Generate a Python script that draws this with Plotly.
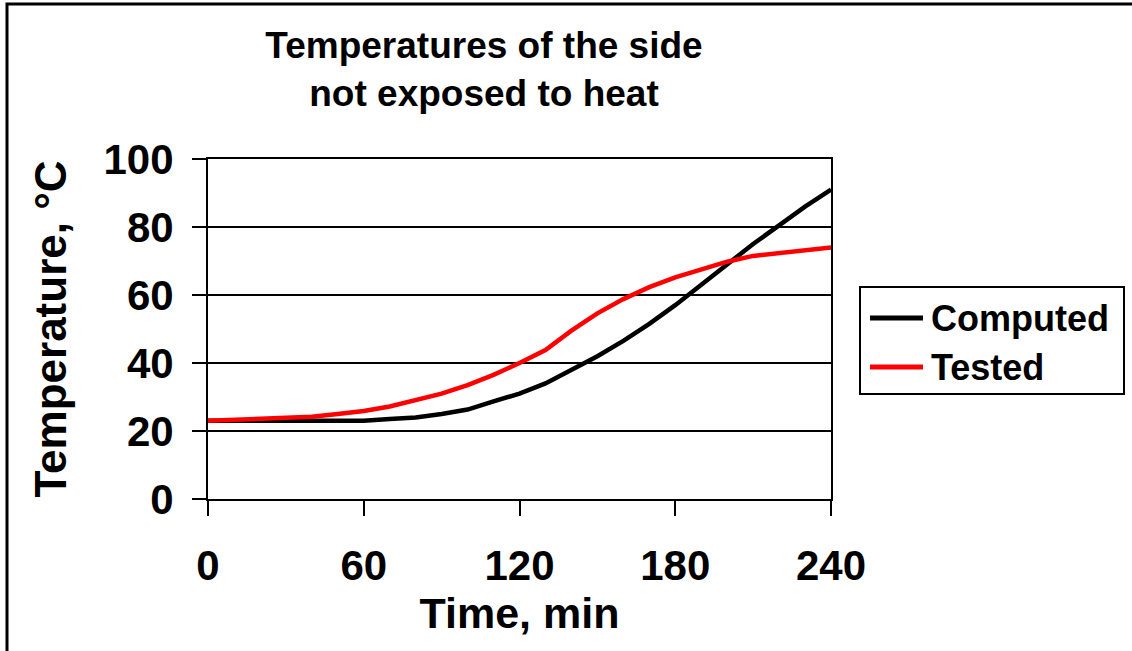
import plotly.graph_objects as go

time_min = [0, 10, 20, 30, 40, 50, 60, 70, 80, 90, 100, 110, 120, 130, 140, 150, 160, 170, 180, 190, 200, 210, 220, 230, 240]
computed = [23, 23, 23, 23, 23, 23, 23, 23.5, 24, 25, 26.3, 28.7, 31, 34, 38, 42, 46.5, 51.5, 57, 63, 69, 75, 80.5, 86, 91]
tested = [23, 23.3, 23.6, 23.8, 24.2, 25, 25.9, 27.2, 29, 31, 33.5, 36.5, 40, 43.8, 49.5, 54.6, 58.8, 62.3, 65.2, 67.5, 69.8, 71.5, 72.3, 73.3, 74]
series_names = ["Computed", "Tested"]
series_colors = ["#000000", "#FF0000"]
x_ticks = [0, 60, 120, 180, 240]
y_ticks = [0, 20, 40, 60, 80, 100]

FONT = "Liberation Sans, Arial, sans-serif"

fig = go.Figure()
for name, vals, col in zip(series_names, [computed, tested], series_colors):
    fig.add_trace(go.Scatter(x=time_min, y=vals, mode="lines", name=name,
                             line=dict(color=col, width=4.5), showlegend=False))

W, H = 1132, 651
L, R, T, B = 208, 831, 159, 499
pw, ph = R - L, B - T


def px_x(p):
    return (p - L) / pw


def px_y(p):
    return (B - p) / ph


fig.update_layout(
    width=W, height=H,
    margin=dict(l=L, r=W - R, t=T, b=H - B),
    paper_bgcolor="white", plot_bgcolor="white",
    font=dict(family=FONT, color="black"),
    title=dict(text="<b>Temperatures of the side<br>not exposed to heat</b>",
               x=484 / W, xanchor="center", xref="container",
               y=1 - 58 / H, yanchor="top", yref="container",
               font=dict(size=37, family=FONT, color="black")),
    xaxis=dict(range=[0, 240], tickvals=x_ticks, ticktext=[f"<b>{v}</b>" for v in x_ticks],
               showgrid=False, zeroline=False, showline=True, linecolor="black", linewidth=2,
               mirror=True, ticks="outside", ticklen=15, tickwidth=2, tickcolor="black",
               ticklabelstandoff=14,
               tickfont=dict(size=42, family=FONT, color="black"),
               title=dict(text="<b>Time, min</b>", font=dict(size=43, family=FONT, color="black"),
                          standoff=7)),
    yaxis=dict(range=[0, 100], tickvals=y_ticks, ticktext=[f"<b>{v}</b>" for v in y_ticks],
               showgrid=True, gridcolor="black", gridwidth=1.5, zeroline=False,
               showline=True, linecolor="black", linewidth=2, mirror=True,
               ticks="outside", ticklen=14, tickwidth=2, tickcolor="black",
               ticklabelstandoff=10,
               tickfont=dict(size=42, family=FONT, color="black"),
               title=dict(text="<b>Temperature, °C</b>", font=dict(size=44, family=FONT, color="black"),
                          standoff=23)),
)

# outer chart-area border (extends beyond the right and bottom edges of the image)
fig.add_shape(type="rect", xref="paper", yref="paper",
              x0=px_x(7), x1=px_x(W + 10), y0=px_y(H + 10), y1=px_y(4),
              line=dict(color="black", width=3), fillcolor="rgba(0,0,0,0)", layer="below")

# legend box
fig.add_shape(type="rect", xref="paper", yref="paper",
              x0=px_x(860), x1=px_x(1124), y0=px_y(394), y1=px_y(287),
              line=dict(color="black", width=2), fillcolor="white")
legend_rows = [318, 367]
for name, col, ry in zip(series_names, series_colors, legend_rows):
    fig.add_shape(type="line", xref="paper", yref="paper",
                  x0=px_x(870), x1=px_x(923), y0=px_y(ry), y1=px_y(ry),
                  line=dict(color=col, width=5))
    fig.add_annotation(xref="paper", yref="paper", x=px_x(929), y=px_y(ry),
                       xanchor="left", yanchor="middle", showarrow=False,
                       text=f"<b>{name}</b>", font=dict(size=36, family=FONT, color="black"))

fig.write_html("out.html")
